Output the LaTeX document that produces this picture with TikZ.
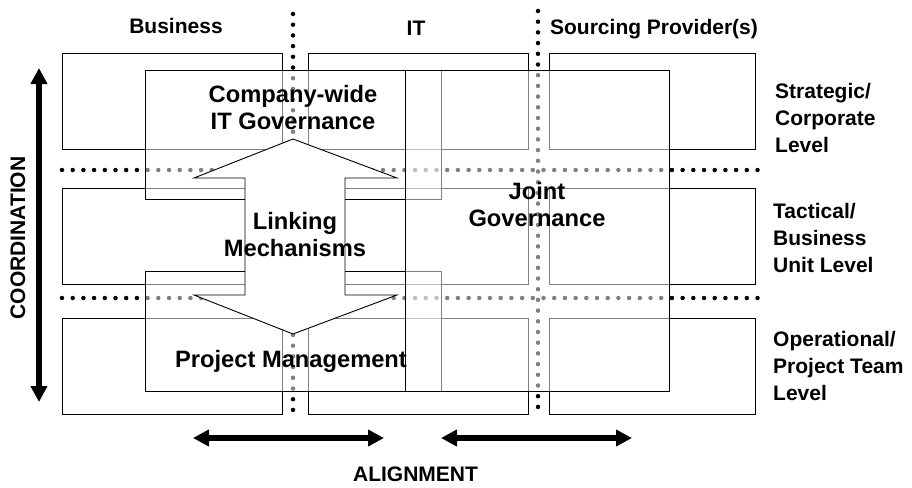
\documentclass[tikz,border=0pt]{standalone}
\usepackage{fontspec}
\setmainfont{Liberation Sans}
\usetikzlibrary{arrows.meta}

\begin{document}
\begin{tikzpicture}
[
    x=1pt, y=-1pt,
    gridbox/.style={draw=black, line width=0.9pt},
    dots/.style={line width=4.5pt, line cap=round, dash pattern=on 0pt off 10.7pt},
    veil/.style={draw=black, line width=0.9pt, fill=white, fill opacity=0.5},
    head/.style={inner sep=0pt, font=\fontsize{21}{27}\selectfont\bfseries},
    big/.style={inner sep=0pt, align=center, font=\fontsize{23.7}{27.5}\selectfont\bfseries},
    sidelabel/.style={head, anchor=north west, align=left},
    fat/.style={line width=5.5pt, >={Triangle[length=16pt,width=16pt]}, <->},
]
\useasboundingbox (0,0) rectangle (912,487);
\foreach \xa/\xb in {62/282, 308/528, 549/755}
    \foreach \ya/\yb in {53/149, 188/284, 318/414}
        \draw[gridbox] (\xa,\ya) rectangle (\xb,\yb);
\draw[dots] (293,14) -- (293,420);
\draw[dots] (538,11) -- (538,417);
\draw[dots] (62,170) -- (765,170);
\draw[dots] (62,298) -- (765,298);
\draw[veil] (145,70) rectangle (441,199);
\draw[veil] (145,271) rectangle (441,391);
\draw[veil] (405,70) rectangle (669,391);
\filldraw[draw=black, fill=white, line width=0.9pt]
    (293,139) -- (397,178) -- (345,178) -- (345,295) -- (397,295)
    -- (293,334) -- (194,295) -- (245,295) -- (245,178) -- (194,178) -- cycle;
\coordinate (coord top) at (39,68);
\coordinate (coord bottom) at (39,402);
\coordinate (align a) at (193,438);
\coordinate (align b) at (384,438);
\coordinate (align c) at (441,438);
\coordinate (align d) at (632,438);
\draw[fat] (coord top) -- (coord bottom);
\draw[fat] (align a) -- (align b);
\draw[fat] (align c) -- (align d);
\node[head, anchor=north] (business) at (176,18) {Business};
\node[head, anchor=north] (it) at (416,21) {IT};
\node[head, anchor=north] (provider) at (654,19) {Sourcing Provider(s)};
\node[sidelabel] (strategic) at (775,83) {Strategic/\\Corporate\\Level};
\node[sidelabel] (tactical) at (773,203) {Tactical/\\Business\\Unit Level};
\node[sidelabel] (operational) at (773,331) {Operational/\\Project Team\\Level};
\node[big, anchor=north] (companywide) at (293,85) {Company-wide\\IT Governance};
\node[big, anchor=north] (linking) at (295,212) {Linking\\Mechanisms};
\node[big, anchor=north] (joint) at (537,182) {Joint\\Governance};
\node[big, anchor=north] (projmgmt) at (291,350) {Project Management};
\node[head, rotate=90] (coordination) at (18,238) {COORDINATION};
\node[head, anchor=north] (alignment) at (415.5,467) {ALIGNMENT};
\end{tikzpicture}
\end{document}
